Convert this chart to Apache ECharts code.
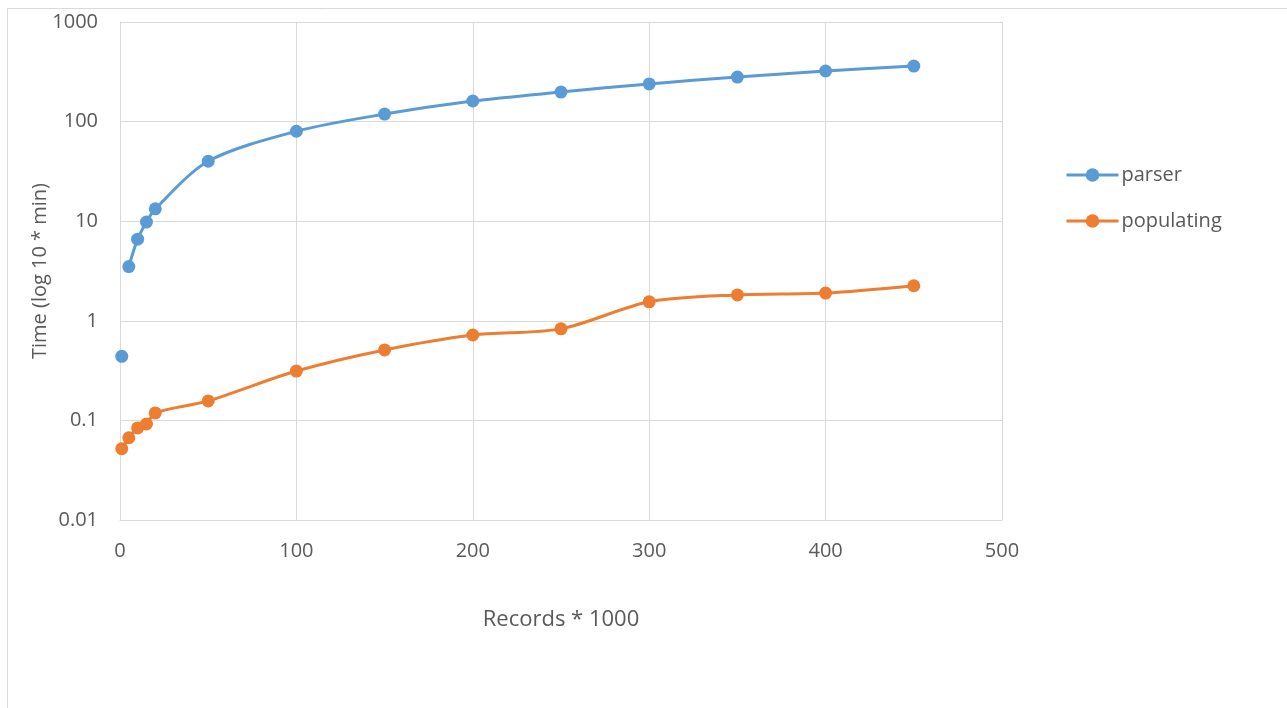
<!DOCTYPE html>
<html>
<head>
<meta charset="utf-8">
<script src="https://cdn.jsdelivr.net/npm/echarts@6/dist/echarts.min.js"></script>
<style>
  html, body { margin: 0; padding: 0; background: #fff; }
  #chart { width: 1287px; height: 708px; }
</style>
</head>
<body>
<div id="chart"></div>
<script>
// records (in thousands) and measured times (minutes)
const recordsK = [1, 5, 10, 15, 20, 50, 100, 150, 200, 250, 300, 350, 400, 450];
const parserTimes = [0.44, 3.5, 6.6, 9.8, 13.3, 40, 80, 119, 161, 198, 239, 280, 322, 361];
const populatingTimes = [0.052, 0.067, 0.084, 0.092, 0.119, 0.157, 0.313, 0.51, 0.72, 0.83, 1.55, 1.82, 1.9, 2.25];
const xTicks = [0, 100, 200, 300, 400, 500];
const yTicks = ['0.01', '0.1', '1', '10', '100', '1000'];

const BLUE = '#5b9bd5';
const ORANGE = '#ed7d31';
const txt = '#595959';
const font = '"Open Sans", sans-serif';

const pairs = (ys) => recordsK.map((x, i) => [x, ys[i]]);
// the first parser point stands alone in the source chart, the line starts at 5k
const parserPts = pairs(parserTimes);

const chart = echarts.init(document.getElementById('chart'));
chart.setOption({
  animation: false,
  backgroundColor: '#fff',
  textStyle: { fontFamily: font },
  graphic: [{
    type: 'rect',
    shape: { x: 7.5, y: 8.5, width: 1300, height: 720 },
    style: { fill: 'none', stroke: '#d9d9d9', lineWidth: 1 },
    silent: true,
  }],
  grid: { left: 120, right: 285, top: 22, bottom: 188 },
  legend: {
    orient: 'vertical',
    left: 1060,
    top: 160,
    itemGap: 26,
    itemWidth: 52,
    itemHeight: 17,
    lineStyle: { width: 3 },
    textStyle: { color: txt, fontSize: 20, fontFamily: font, padding: [0, 0, 0, -2] },
    data: ['parser', 'populating'],
  },
  xAxis: {
    type: 'value',
    min: 0,
    max: 500,
    interval: 100,
    name: 'Records * 1000',
    nameLocation: 'middle',
    nameGap: 89,
    nameTextStyle: { color: txt, fontSize: 22, fontFamily: font },
    axisLine: { show: true, lineStyle: { color: '#d9d9d9' } },
    axisTick: { show: false },
    axisLabel: { color: txt, fontSize: 20, margin: 21, formatter: (v) => xTicks.includes(v) ? String(v) : '' },
    splitLine: { show: true, lineStyle: { color: '#d9d9d9' } },
  },
  yAxis: {
    type: 'log',
    logBase: 10,
    min: 0.01,
    max: 1000,
    name: 'Time (log 10 * min)',
    nameLocation: 'middle',
    nameGap: 70,
    nameMoveOverlap: false,
    nameTextStyle: { color: txt, fontSize: 20, fontFamily: font },
    axisLine: { show: true, lineStyle: { color: '#d9d9d9' } },
    axisTick: { show: false },
    axisLabel: {
      color: txt, fontSize: 20, margin: 22,
      formatter: (v) => {
        const s = String(+v.toPrecision(3));
        return yTicks.includes(s) ? s : '';
      },
    },
    splitLine: { show: true, lineStyle: { color: '#d9d9d9' } },
  },
  series: [
    {
      name: 'parser',
      type: 'line',
      smooth: 0.3,
      data: parserPts.slice(1),
      symbol: 'circle',
      symbolSize: 13,
      lineStyle: { color: BLUE, width: 3 },
      itemStyle: { color: BLUE },
      z: 3,
    },
    {
      name: 'parser',
      type: 'scatter',
      data: parserPts.slice(0, 1),
      symbol: 'circle',
      symbolSize: 13,
      itemStyle: { color: BLUE, opacity: 1 },
      z: 3,
    },
    {
      name: 'populating',
      type: 'line',
      smooth: 0.3,
      data: pairs(populatingTimes),
      symbol: 'circle',
      symbolSize: 13,
      lineStyle: { color: ORANGE, width: 3 },
      itemStyle: { color: ORANGE },
      z: 3,
    },
  ],
});
</script>
</body>
</html>
